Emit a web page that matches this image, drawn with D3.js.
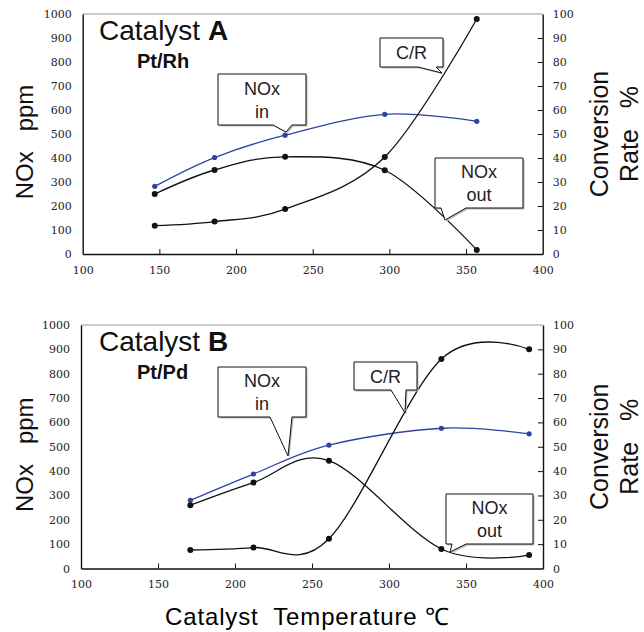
<!DOCTYPE html>
<html>
<head>
<meta charset="utf-8">
<script src="https://cdn.jsdelivr.net/npm/d3@7"></script>
<style>
  body { margin: 0; background: #fff; }
  svg text { white-space: pre; }
</style>
</head>
<body>
<div id="chart"></div>
<script>
/* values */
var tickTemp = [100, 150, 200, 250, 300, 350, 400];
var tickPpm = [0, 100, 200, 300, 400, 500, 600, 700, 800, 900, 1000];
var tickRate = [0, 10, 20, 30, 40, 50, 60, 70, 80, 90, 100];

// Catalyst A  Pt/Rh
var tempA = [147, 186, 232, 297, 357];
var noxInA = [282, 402, 495, 582, 553];
var noxOutA = [250, 350, 405, 349, 17];
var crA = [11.8, 13.5, 18.7, 40.4, 97.9];

// Catalyst B  Pt/Pd
var tempB = [171, 212, 261, 334, 391];
var noxInB = [280, 388, 507, 576, 553];
var noxOutB = [260, 353, 443, 80, 55];
var crB = [7.6, 8.6, 12.2, 86, 90];

var W = 644, H = 632;
var sans = "'Liberation Sans', Arial, sans-serif";
var serif = "'DejaVu Serif', serif";
var blue = "#2f43a0";

var svg = d3.select("#chart").append("svg")
    .attr("width", W)
    .attr("height", H);

var panels = [
  {
    name: "A", sub: "Pt/Rh", left: 82.7, right: 542.7, top: 14, bottom: 254,
    temp: tempA, noxIn: noxInA, noxOut: noxOutA, cr: crA,
    // callouts: box in pixels, pointer base on bottom edge, tip in pixels
    notes: [
      { lines: ["NOx", "in"], box: [218, 74, 306, 125], base: [273, 292], tip: [286, 132] },
      { lines: ["C/R"], box: [380, 38, 443, 67], base: [418, 436], tip: [442, 73] },
      { lines: ["NOx", "out"], box: [435, 158, 523, 208], base: [441, 466], tip: [445, 220] }
    ]
  },
  {
    name: "B", sub: "Pt/Pd", left: 81, right: 543, top: 325, bottom: 568.5,
    temp: tempB, noxIn: noxInB, noxOut: noxOutB, cr: crB,
    notes: [
      { lines: ["NOx", "in"], box: [218, 367, 306, 417], base: [270, 292], tip: [288, 456] },
      { lines: ["C/R"], box: [354, 362, 417, 390], base: [391, 406], tip: [405, 413] },
      { lines: ["NOx", "out"], box: [446, 494, 533, 544], base: [452, 466], tip: [450, 552] }
    ]
  }
];

panels.forEach(drawPanel);

// shared x title
svg.append("text")
    .attr("x", 165).attr("y", 625)
    .attr("textLength", 284).attr("lengthAdjust", "spacing")
    .style("font-family", sans).style("font-size", "24px")
    .text("Catalyst  Temperature \u2103");

function drawPanel(p)
{
    var x = d3.scaleLinear().domain([100, 400]).range([p.left, p.right]);
    var yL = d3.scaleLinear().domain([0, 1000]).range([p.bottom, p.top]);
    var yR = d3.scaleLinear().domain([0, 100]).range([p.bottom, p.top]);

    var g = svg.append("g");

    // top frame line is light grey
    g.append("line")
        .attr("x1", p.left).attr("x2", p.right)
        .attr("y1", p.top).attr("y2", p.top)
        .attr("stroke", "#9a9a9a").attr("stroke-width", 1.2);

    var fmt = d3.format("d");
    var ax = g.append("g")
        .attr("transform", "translate(0," + p.bottom + ")")
        .call(d3.axisBottom(x).tickValues(tickTemp).tickFormat(fmt).tickSizeInner(-5).tickSizeOuter(0).tickPadding(12));
    var axL = g.append("g")
        .attr("transform", "translate(" + p.left + ",0)")
        .call(d3.axisLeft(yL).tickValues(tickPpm).tickFormat(fmt).tickSize(0).tickPadding(11));
    var axR = g.append("g")
        .attr("transform", "translate(" + p.right + ",0)")
        .call(d3.axisRight(yR).tickValues(tickRate).tickFormat(fmt).tickSizeInner(-5).tickSizeOuter(0).tickPadding(10));

    [ax, axL, axR].forEach(function(a) {
        a.select(".domain").attr("stroke", "#111").attr("stroke-width", 1.4);
        a.selectAll(".tick line").attr("stroke", "#111");
        a.selectAll("text")
            .style("font-family", serif)
            .style("font-size", "11px")
            .attr("fill", "#222");
    });
    ax.selectAll(".tick").filter(function(d) { return d == 100 || d == 400; }).select("line").remove();
    axR.selectAll(".tick").filter(function(d) { return d == 0 || d == 100; }).select("line").remove();

    // curves (smoothed like the original)
    var curve = d3.curveCardinal.tension(0);
    var series = [
        { v: p.noxIn, y: yL, color: blue, r: 2.6, w: 1.3 },
        { v: p.noxOut, y: yL, color: "#111", r: 3, w: 1.3 },
        { v: p.cr, y: yR, color: "#111", r: 3, w: 1.3 }
    ];
    series.forEach(function(s) {
        var pts = p.temp.map(function(t, i) { return [t, s.v[i]]; });
        var line = d3.line()
            .x(function(d) { return x(d[0]); })
            .y(function(d) { return s.y(d[1]); })
            .curve(curve);
        g.append("path")
            .attr("d", line(pts))
            .attr("fill", "none")
            .attr("stroke", s.color)
            .attr("stroke-width", s.w);
        g.selectAll(null).data(pts).enter().append("circle")
            .attr("cx", function(d) { return x(d[0]); })
            .attr("cy", function(d) { return s.y(d[1]); })
            .attr("r", s.r)
            .attr("fill", s.color);
    });

    // callouts
    p.notes.forEach(function(n) {
        var b = n.box;
        var pts = [[b[0], b[1]], [b[2], b[1]], [b[2], b[3]], [n.base[1], b[3]], n.tip, [n.base[0], b[3]], [b[0], b[3]]];
        g.append("polygon")
            .attr("points", pts.map(function(q) { return (q[0] + 1.5) + "," + (q[1] + 1.5); }).join(" "))
            .attr("fill", "#bbb");
        g.append("polygon")
            .attr("points", pts.map(function(q) { return q.join(","); }).join(" "))
            .attr("fill", "#fff")
            .attr("stroke", "#111")
            .attr("stroke-width", 1);
        var cx = (b[0] + b[2]) / 2;
        var cy = (b[1] + b[3]) / 2;
        var lh = 23;
        n.lines.forEach(function(t, i) {
            g.append("text")
                .attr("x", cx)
                .attr("y", cy + 6.5 + (i - (n.lines.length - 1) / 2) * lh)
                .attr("text-anchor", "middle")
                .style("font-family", sans)
                .style("font-size", "18px")
                .attr("fill", "#222")
                .text(t);
        });
    });

    // panel title
    var title = g.append("text")
        .attr("x", 99).attr("y", p.top + 26)
        .style("font-family", sans).style("font-size", "28px").attr("fill", "#111");
    title.append("tspan").text("Catalyst ");
    title.append("tspan").style("font-weight", "bold").text(p.name);
    g.append("text")
        .attr("x", 137).attr("y", p.top + 54)
        .style("font-family", sans).style("font-size", "20px")
        .style("font-weight", "bold").attr("fill", "#111")
        .text(p.sub);

    // y titles
    var mid = (p.top + p.bottom) / 2 + 8;
    g.append("text")
        .attr("transform", "translate(33," + mid + ") rotate(-90)")
        .attr("text-anchor", "middle")
        .style("font-family", sans).style("font-size", "24px").attr("fill", "#111")
        .text("NOx   ppm");
    g.append("text")
        .attr("transform", "translate(608," + (mid - 8) + ") rotate(-90)")
        .attr("text-anchor", "middle")
        .style("font-family", sans).style("font-size", "25px").attr("fill", "#111")
        .text("Conversion");
    g.append("text")
        .attr("transform", "translate(638," + (mid - 8) + ") rotate(-90)")
        .attr("text-anchor", "middle")
        .style("font-family", sans).style("font-size", "25px").attr("fill", "#111")
        .text("Rate   %");
}
</script>
</body>
</html>
